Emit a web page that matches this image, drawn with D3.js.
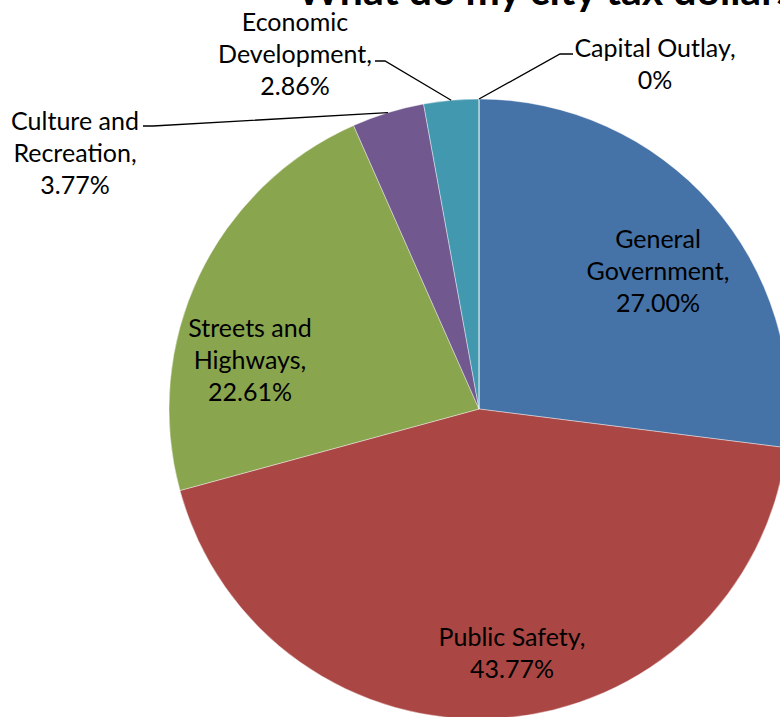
<!DOCTYPE html>
<html><head><meta charset="utf-8">
<script src="https://cdn.jsdelivr.net/npm/d3@7"></script>
<style>body{margin:0;background:#fff}svg{display:block}</style>
</head><body>
<svg id="c" width="780" height="717"></svg>
<script>
const title = "What do my city tax dollars fund?";
const categories = ["General Government","Public Safety","Streets and Highways","Culture and Recreation","Economic Development","Capital Outlay"];
const values = [27.00, 43.77, 22.61, 3.77, 2.86, 0];
const valueLabels = ["27.00%","43.77%","22.61%","3.77%","2.86%","0%"];
const labelLines = [
  ["General","Government,","27.00%"],
  ["Public Safety,","43.77%"],
  ["Streets and","Highways,","22.61%"],
  ["Culture and","Recreation,","3.77%"],
  ["Economic","Development,","2.86%"],
  ["Capital Outlay,","0%"]
];
const colors = ["#4572A7","#AA4643","#89A54E","#71588F","#4198AF","#DB843D"];

// layout
const cx = 479, cy = 409, R = 310;
const labelPos = [[658,238],[512,636],[250,327],[75,120],[295,21],[655,47]];
const outside = [false,false,false,true,true,true];
const elbow = [null,null,null,[[143,126],[153,126]],[[375,61],[385,61]],[[573,54],[560,54]]];

const svg = d3.select("#c");
const fontFam = "Lato, 'Open Sans', sans-serif";

const pie = d3.pie().sort(null).value(d => d);
const arcs = pie(values);
const arc = d3.arc().innerRadius(0).outerRadius(R);

const g = svg.append("g").attr("transform", `translate(${cx},${cy})`);
g.selectAll("path").data(arcs).enter().append("path")
  .attr("d", arc)
  .attr("fill", (d,i) => colors[i])
  .attr("stroke", "#ffffff").attr("stroke-opacity", 0.5).attr("stroke-width", 0.8);

// leader lines
arcs.forEach((a,i) => {
  if (!outside[i]) return;
  const m = (a.startAngle + a.endAngle)/2;
  const px = cx + R*Math.sin(m), py = cy - R*Math.cos(m);
  const e = elbow[i];
  svg.append("polyline")
    .attr("points", `${e[0][0]},${e[0][1]} ${e[1][0]},${e[1][1]} ${px},${py}`)
    .attr("fill","none").attr("stroke","#000").attr("stroke-width",1.3);
});

// labels
labelLines.forEach((lines,i) => {
  const t = svg.append("text")
    .attr("font-family", fontFam).attr("font-size", 25)
    .attr("text-anchor","middle").attr("fill","#000");
  lines.forEach((s,j) => {
    t.append("tspan").attr("x", labelPos[i][0]).attr("y", labelPos[i][1] + j*32)
      .attr("dominant-baseline","central").text(s);
  });
});

// title (cropped at top, as in the reference)
svg.append("text").attr("x", 297).attr("y", 5)
  .attr("font-family", fontFam).attr("font-weight", "bold").attr("font-size", 41)
  .attr("fill","#000").text(title);
</script>
</body></html>
